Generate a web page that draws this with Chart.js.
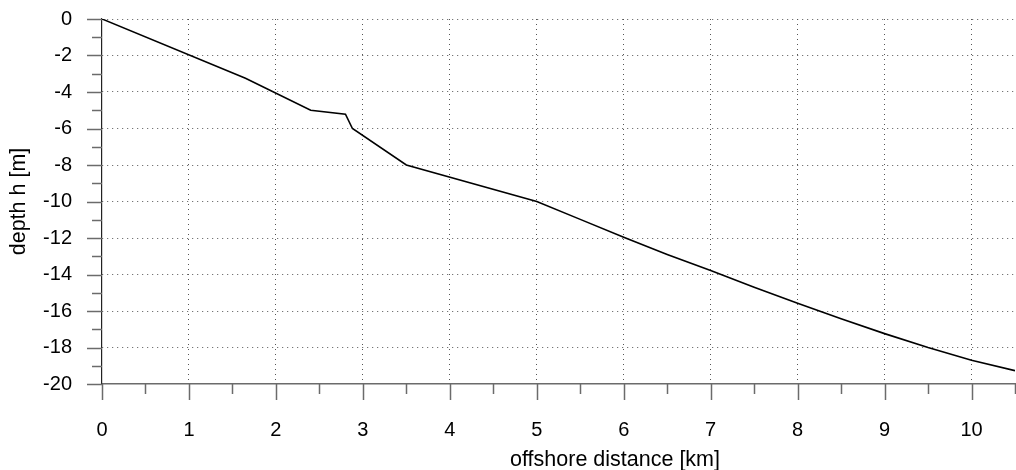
<!DOCTYPE html>
<html>
<head>
<meta charset="utf-8">
<script src="https://cdn.jsdelivr.net/npm/chart.js@4/dist/chart.umd.min.js"></script>
<style>
  html, body { margin: 0; padding: 0; background: #fff; }
  #profile { display: block; }
</style>
</head>
<body>
<canvas id="profile" width="1016" height="470"></canvas>
<script>
// offshore distance [km] and depth [m]
const distanceKm = [0, 1.65, 2.4, 2.8, 2.88, 3.5, 5, 5.5, 6, 6.5, 7, 7.5, 8, 8.5, 9, 9.5, 10, 10.5];
const depthM = [0, -3.25, -5, -5.22, -6, -8, -10, -10.98, -11.96, -12.9, -13.78, -14.7, -15.57, -16.43, -17.24, -18.0, -18.7, -19.27];

const xTitle = "offshore distance [km]";
const yTitle = "depth h [m]";

const axisGray = "#6b6b6b";
const fam = "'Liberation Sans', Arial, sans-serif";
const tickFont = { family: fam, size: 20 };
const titleFont = { family: fam, size: 21.5 };

// major/minor tick marks outside the plot box + x title (sits right of centre in the original)
const tickMarks = {
  id: "tickMarks",
  afterDraw(chart) {
    const ctx = chart.ctx;
    const area = chart.chartArea;
    const xs = chart.scales.x, ys = chart.scales.y;
    ctx.save();
    ctx.strokeStyle = axisGray;
    ctx.lineWidth = 1.5;
    ctx.beginPath();
    xs.ticks.forEach((t) => {
      const px = Math.round(xs.getPixelForValue(t.value)) + 0.5;
      const len = Number.isInteger(t.value) ? 16 : 10;
      ctx.moveTo(px, area.bottom);
      ctx.lineTo(px, area.bottom + len);
    });
    ys.ticks.forEach((t) => {
      const py = Math.round(ys.getPixelForValue(t.value)) + 0.5;
      const len = t.value % 2 === 0 ? 15 : 10;
      ctx.moveTo(area.left, py);
      ctx.lineTo(area.left - len, py);
    });
    ctx.stroke();

    ctx.fillStyle = "#000";
    ctx.font = titleFont.size + "px " + fam;
    ctx.textAlign = "center";
    ctx.textBaseline = "alphabetic";
    ctx.fillText(xTitle, xs.getPixelForValue(5.9), area.bottom + 82);
    ctx.restore();
  }
};

new Chart(document.getElementById("profile"), {
  type: "line",
  data: {
    datasets: [{
      data: distanceKm.map((d, i) => ({ x: d, y: depthM[i] })),
      borderColor: "#000",
      borderWidth: 1.6,
      pointRadius: 0,
      tension: 0,
      fill: false,
    }],
  },
  options: {
    responsive: false,
    animation: false,
    layout: { padding: { top: 19, right: 1, left: 0, bottom: 0 } },
    plugins: { legend: { display: false }, tooltip: { enabled: false } },
    scales: {
      x: {
        type: "linear",
        min: 0,
        max: 10.5,
        afterFit: (s) => { s.height = 86; s.paddingLeft = 0; s.paddingRight = 0; },
        ticks: {
          stepSize: 0.5,
          autoSkip: false,
          maxRotation: 0,
          color: "#000",
          font: tickFont,
          padding: 34,
          callback: (v) => Number.isInteger(v) ? String(v) : "",
        },
        grid: {
          drawTicks: false,
          color: (c) => (c.tick && Number.isInteger(c.tick.value) && c.tick.value > 0) ? "#555" : "rgba(0,0,0,0)",
          lineWidth: 1,
        },
        border: { color: axisGray, width: 1.5, dash: [1, 4] },
      },
      y: {
        type: "linear",
        min: -20,
        max: 0,
        afterFit: (s) => { s.width = 102; s.paddingTop = 0; s.paddingBottom = 0; },
        ticks: {
          stepSize: 1,
          autoSkip: false,
          color: "#000",
          font: tickFont,
          padding: 30,
          callback: (v) => v % 2 === 0 ? String(v) : "",
        },
        grid: {
          drawTicks: false,
          color: (c) => (c.tick && c.tick.value % 2 === 0 && c.tick.value > -20) ? "#555" : "rgba(0,0,0,0)",
          lineWidth: 1,
        },
        border: { color: "#222", width: 1.2, dash: [1, 4] },
        title: { display: true, text: yTitle, color: "#000", font: titleFont, padding: { top: 6, bottom: 0 } },
      },
    },
  },
  plugins: [tickMarks],
});
</script>
</body>
</html>
